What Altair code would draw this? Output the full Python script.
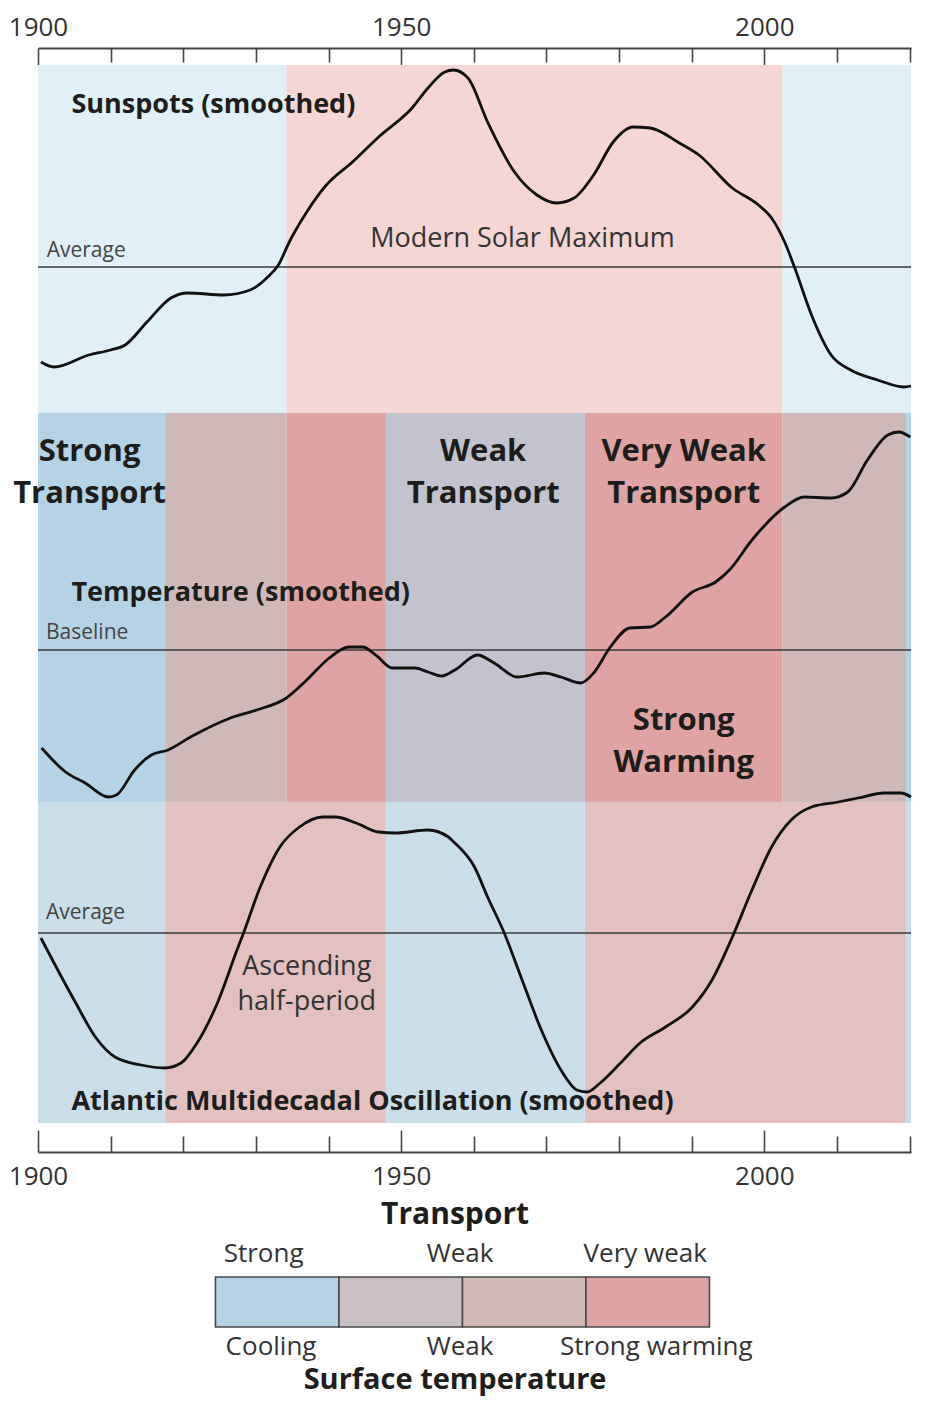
import altair as alt
import pandas as pd

FONT = "Open Sans"

# ---------------- data ----------------
x_domain = [1900, 2020.2]
tick_years = list(range(1900, 2030, 10))
label_years = [1900, 1950, 2000]

# Sunspots (smoothed), relative to average
sun_year = [1900.4, 1902.2, 1907, 1910, 1912, 1915, 1918.3, 1920.6, 1925.6, 1929.2, 1931.5,
            1933.1, 1934.6, 1937, 1939.7, 1943.3, 1946.9, 1951.5, 1953.7, 1956, 1957.2, 1959.2,
            1961.9, 1965.6, 1968.7, 1971.4, 1973.8, 1976.5, 1979.2, 1981.9, 1984.3, 1988.3, 1991,
            1995.6, 1999.2, 2001, 2002.8, 2004.2, 2006.5, 2009.2, 2011.9, 2015.6, 2019.2, 2020.2]
sun_val = [-9.5, -10.0, -8.8, -8.3, -7.8, -5.5, -3.1, -2.6, -2.8, -2.3, -1.1,
           0.2, 2.5, 5.5, 8.2, 10.5, 13.0, 15.9, 17.9, 19.5, 19.7, 18.9,
           14.5, 9.5, 7.2, 6.4, 6.9, 9.2, 12.5, 14.0, 13.9, 12.4, 11.2,
           7.9, 6.2, 4.9, 2.5, -0.1, -4.8, -8.8, -10.3, -11.3, -12.0, -11.9]

# Temperature (smoothed), relative to baseline
temp_year = [1900.5, 1903.8, 1906.5, 1909.7, 1910.8, 1913.3, 1915.6, 1917.9, 1921, 1926.5,
             1930.1, 1934.2, 1937, 1940.1, 1942.8, 1944.7, 1946.5, 1948.8, 1951.9, 1953.7,
             1955.6, 1957.4, 1960.5, 1962.8, 1966, 1969.7, 1972, 1974.7, 1976.5, 1978.8,
             1981.5, 1984.3, 1986.4, 1990.1, 1993.3, 1995.2, 1998.3, 2002.8, 2005.5, 2009.2,
             2011.5, 2014.2, 2017, 2018.5, 2020.1]
temp_val = [-9.8, -12.2, -13.3, -14.7, -14.5, -12.0, -10.5, -10.0, -8.7, -6.8,
            -6.0, -4.8, -3.0, -0.8, 0.3, 0.3, -0.5, -1.8, -1.8, -2.2,
            -2.6, -2.0, -0.5, -1.3, -2.7, -2.3, -2.7, -3.3, -2.3, 0.3,
            2.2, 2.3, 3.3, 5.8, 6.8, 8.0, 11.0, 14.3, 15.3, 15.2,
            15.8, 19.0, 21.5, 21.8, 21.3]

# Atlantic Multidecadal Oscillation (smoothed), relative to average
amo_year = [1900.4, 1902.5, 1905.2, 1907.9, 1910.6, 1914.2, 1917.4, 1919.7, 1921.9, 1924.7,
            1927.4, 1928.3, 1930.6, 1933.3, 1936, 1939.2, 1941, 1943.8, 1946.9, 1949.2,
            1953.7, 1956.5, 1957.4, 1960.1, 1961.9, 1964.2, 1966.5, 1969.3, 1972, 1974.2,
            1975.6, 1977.4, 1980.2, 1982.9, 1986.4, 1990.1, 1992.8, 1995.6, 1998.3, 2001,
            2003.7, 2006.5, 2010.2, 2012.9, 2016.5, 2018.8, 2020.2]
amo_val = [-0.5, -3.4, -7.0, -10.4, -12.4, -13.2, -13.5, -13.0, -11.0, -7.0,
           -1.7, 0.0, 4.6, 8.6, 10.6, 11.6, 11.6, 11.0, 10.1, 10.0,
           10.3, 9.6, 9.0, 6.6, 3.6, 0.0, -4.4, -9.7, -13.7, -15.7,
           -15.9, -15.0, -13.0, -11.0, -9.4, -7.4, -4.7, -0.4, 4.3, 8.6,
           11.3, 12.6, 13.1, 13.5, 14.0, 14.0, 13.6]

# Background periods
sun_band_start = [1900, 1934.2, 2002.5]
sun_band_end = [1934.2, 2002.5, 2020.2]
sun_band_kind = ["low", "high", "low"]

temp_band_start = [1900, 1917.5, 1934.2, 1947.9, 1975.3, 2002.5, 2019.5]
temp_band_end = [1917.5, 1934.2, 1947.9, 1975.3, 2002.5, 2019.5, 2020.2]
temp_band_kind = ["Cooling", "Weak warming", "Strong warming", "Weak transport",
                  "Strong warming", "Weak warming", "Cooling"]

amo_band_start = [1900, 1917.5, 1947.9, 1975.3, 2019.5]
amo_band_end = [1917.5, 1947.9, 1975.3, 2019.5, 2020.2]
amo_band_kind = ["descending", "ascending", "descending", "ascending", "descending"]

# Annotations (year, level in panel units)
sun_note_text = ["Sunspots (smoothed)", "Average", "Modern Solar Maximum"]
sun_note_year = [1904.6, 1901.2, 1966.7]
sun_note_level = [16.2, 1.6, 2.8]
sun_note_style = ["title", "small", "plain"]

temp_note_text = ["Strong", "Transport", "Weak", "Transport", "Very Weak", "Transport",
                  "Temperature (smoothed)", "Baseline", "Strong", "Warming"]
temp_note_year = [1907.1, 1907.1, 1961.3, 1961.3, 1988.9, 1988.9, 1904.6, 1901.1, 1988.9, 1988.9]
temp_note_level = [19.8, 15.6, 19.8, 15.6, 19.8, 15.6, 5.7, 1.7, -7.1, -11.3]
temp_note_style = ["big", "big", "big", "big", "big", "big", "title", "small", "big", "big"]

amo_note_text = ["Average", "Ascending", "half-period", "Atlantic Multidecadal Oscillation (smoothed)"]
amo_note_year = [1901.1, 1937.0, 1937.0, 1904.6]
amo_note_level = [2.0, -3.4, -6.9, -16.9]
amo_note_style = ["small", "plain", "plain", "title"]

# Legend
legend_kind = ["Cooling", "Weak transport", "Weak warming", "Strong warming"]
legend_index = [0, 1, 2, 3]
legend_text = ["Transport", "Strong", "Weak", "Very weak", "Cooling", "Weak", "Strong warming",
               "Surface temperature"]
legend_pos = [1.94, 0.39, 1.98, 3.48, 0.45, 1.98, 3.57, 1.94]
legend_level = [2.24, 1.46, 1.46, 1.46, -0.40, -0.40, -0.40, -1.06]
legend_style = ["head", "plain", "plain", "plain", "plain", "plain", "plain", "foot"]

# ---------------- styles ----------------
W = 873
X_SCALE = alt.Scale(domain=x_domain, nice=False, zero=False)

sun_colors = {"low": "#e0f0f6", "high": "#f6d5d5"}
temp_colors = {"Cooling": "#b5d3e6", "Weak warming": "#cfb8b7", "Strong warming": "#e0a3a4",
               "Weak transport": "#c3c3cf"}
amo_colors = {"descending": "#c9dee9", "ascending": "#e4c0c1"}
legend_colors = {"Cooling": "#b5d3e6", "Weak transport": "#cbbfc6", "Weak warming": "#d0b8b6",
                 "Strong warming": "#e0a3a4"}

TEXT_STYLES = {
    "title": dict(font=FONT, fontWeight="bold", fontSize=27, align="left", baseline="middle", color="#1d1d1b"),
    "small": dict(font=FONT, fontSize=21, align="left", baseline="middle", color="#444444"),
    "plain": dict(font=FONT, fontSize=27, align="center", baseline="middle", color="#333333"),
    "big": dict(font=FONT, fontWeight="bold", fontSize=31, align="center", baseline="middle", color="#1d1d1b"),
    "head": dict(font=FONT, fontWeight="bold", fontSize=30, align="center", baseline="middle", color="#1d1d1b"),
    "foot": dict(font=FONT, fontWeight="bold", fontSize=29, align="center", baseline="middle", color="#1d1d1b"),
    "legend": dict(font=FONT, fontSize=26, align="center", baseline="middle", color="#333333"),
}


def xenc(field):
    return alt.X(field, type="quantitative", scale=X_SCALE, axis=None)


def panel(bs, be, bk, colors, years, vals, ydom, height, nt, ny, nl, nst):
    ys = alt.Scale(domain=ydom, nice=False, zero=False)
    bands = alt.Chart(pd.DataFrame({"start": bs, "end": be, "kind": bk})).mark_rect().encode(
        x=xenc("start"), x2="end",
        color=alt.Color("kind:N", scale=alt.Scale(domain=list(colors.keys()),
                                                  range=list(colors.values())), legend=None),
    )
    ref = alt.Chart(pd.DataFrame({"level": [0]})).mark_rule(color="#3a3a3a", strokeWidth=1.5).encode(
        y=alt.Y("level:Q", scale=ys, axis=None)
    )
    line = alt.Chart(pd.DataFrame({"year": years, "value": vals})).mark_line(
        color="#111111", strokeWidth=2.8, interpolate="monotone", clip=False,
        strokeJoin="round", strokeCap="butt",
    ).encode(x=xenc("year"), y=alt.Y("value:Q", scale=ys, axis=None))
    layers = [bands, ref, line]
    notes = pd.DataFrame({"label": nt, "year": ny, "level": nl, "style": nst})
    for st, kw in TEXT_STYLES.items():
        sub = notes[notes["style"] == st]
        if len(sub):
            layers.append(alt.Chart(sub).mark_text(**kw).encode(
                x=xenc("year"), y=alt.Y("level:Q", scale=ys, axis=None), text="label:N"))
    return alt.layer(*layers).properties(width=W, height=height)


def strip(orient, height, major_len, minor_len, pad):
    test = f"indexof({label_years}, datum.value) >= 0"
    ax = alt.Axis(
        orient=orient, values=tick_years, title=None, format="d",
        labelExpr=f"{test} ? datum.label : ''",
        labelFont=FONT, labelFontSize=26, labelColor="#333333", labelPadding=pad,
        labelFlush=False, labelOverlap=False,
        ticks=False, tickSize=0,
        domainColor="#444444", domainWidth=2,
        grid=True, gridColor="#444444", gridWidth=1.6, gridOpacity=1,
        gridDash={"condition": {"test": test, "value": [major_len, 300]}, "value": [minor_len, 300]},
    )
    return alt.Chart(pd.DataFrame({"year": tick_years})).mark_point(opacity=0, size=1).encode(
        x=alt.X("year:Q", scale=X_SCALE, axis=ax)
    ).properties(width=W, height=height)


top_strip = strip("top", 17, 17, 14, 8)

sun_panel = panel(sun_band_start, sun_band_end, sun_band_kind, sun_colors, sun_year, sun_val,
                  [-14.6, 20.2], 348, sun_note_text, sun_note_year, sun_note_level, sun_note_style)
temp_panel = panel(temp_band_start, temp_band_end, temp_band_kind, temp_colors, temp_year, temp_val,
                   [-15.2, 23.7], 389, temp_note_text, temp_note_year, temp_note_level, temp_note_style)
amo_panel = panel(amo_band_start, amo_band_end, amo_band_kind, amo_colors, amo_year, amo_val,
                  [-19.0, 13.1], 321, amo_note_text, amo_note_year, amo_note_level, amo_note_style)

bottom_strip = strip("bottom", 29, 22, 16, 11)

# Legend
LX = alt.Scale(domain=[-1.437, 5.632], nice=False, zero=False)
LY = alt.Scale(domain=[-1.4, 3.5], nice=False, zero=False)
leg_df = pd.DataFrame({
    "i0": legend_index,
    "i1": [i + 1 for i in legend_index],
    "b0": [0] * len(legend_index),
    "b1": [1] * len(legend_index),
    "kind": legend_kind,
})
boxes = alt.Chart(leg_df).mark_rect(stroke="#4a4a4a", strokeWidth=1.6).encode(
    x=alt.X("i0:Q", scale=LX, axis=None), x2="i1:Q",
    y=alt.Y("b0:Q", scale=LY, axis=None), y2="b1:Q",
    color=alt.Color("kind:N", scale=alt.Scale(domain=list(legend_colors.keys()),
                                              range=list(legend_colors.values())), legend=None),
)
leg_notes = pd.DataFrame({"label": legend_text, "pos": legend_pos, "level": legend_level, "style": legend_style})
leg_layers = [boxes]
for st, key in [("plain", "legend"), ("head", "head"), ("foot", "foot")]:
    sub = leg_notes[leg_notes["style"] == st]
    leg_layers.append(alt.Chart(sub).mark_text(**TEXT_STYLES[key]).encode(
        x=alt.X("pos:Q", scale=LX, axis=None), y=alt.Y("level:Q", scale=LY, axis=None), text="label:N"))
legend = alt.layer(*leg_layers).properties(width=W, height=245)

chart = alt.vconcat(
    top_strip, sun_panel, temp_panel, amo_panel, bottom_strip, legend,
    spacing=0, bounds="flush",
).resolve_scale(color="independent").configure_view(stroke=None).properties(
    padding={"left": 0, "top": 6, "right": 0, "bottom": 0},
    background="white",
)

chart.save("out.html", embed_options={"renderer": "svg", "actions": False})
